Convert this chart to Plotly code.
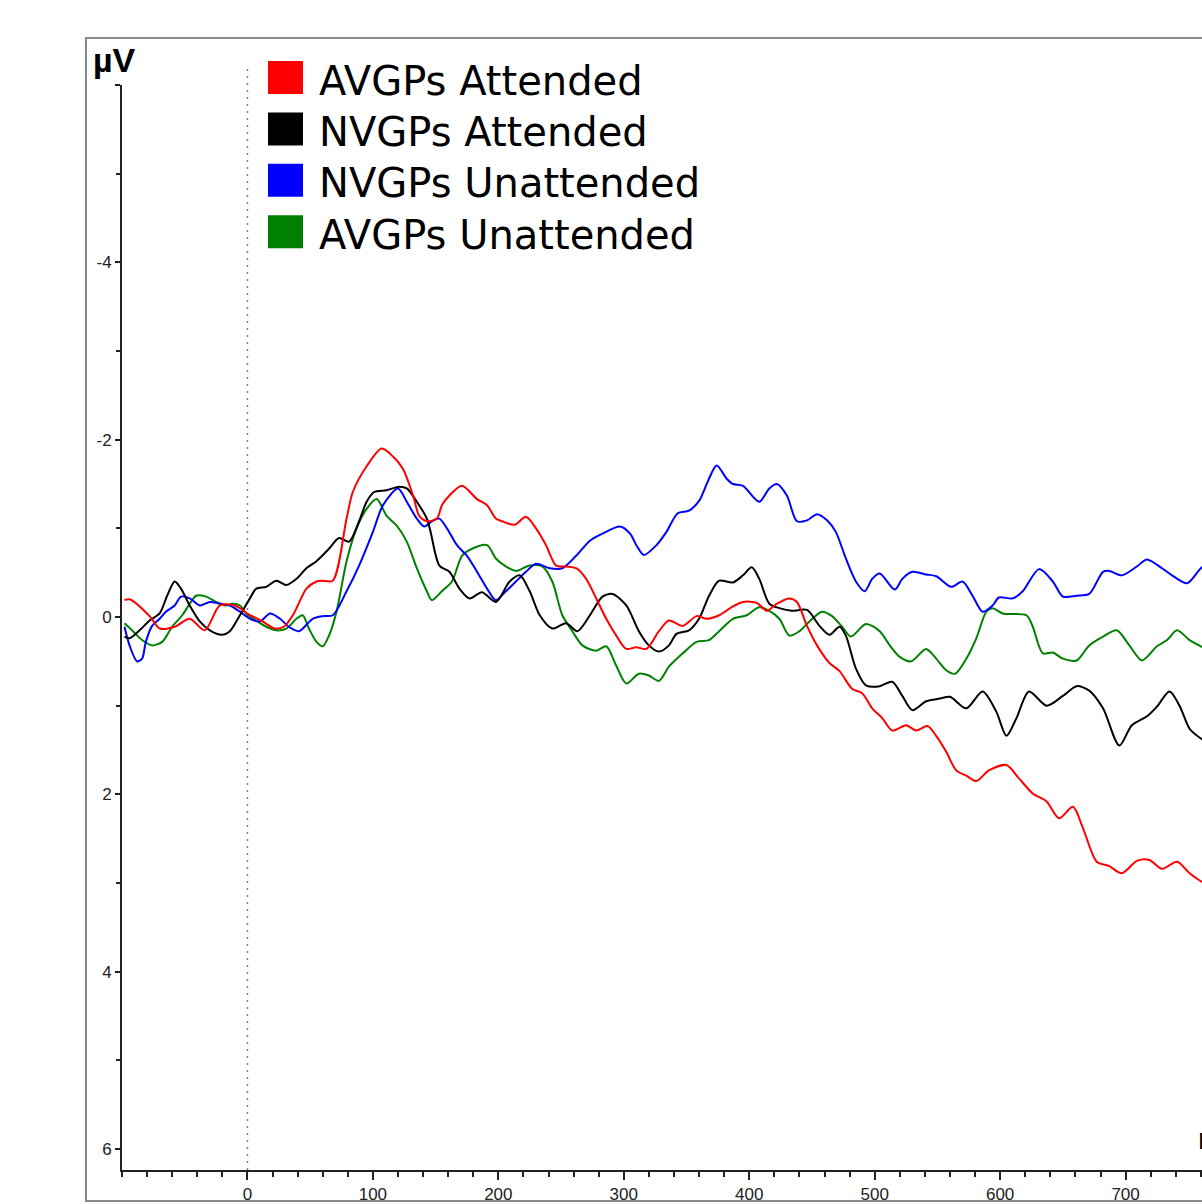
import plotly.graph_objects as go

# ---------------- data (time in ms, amplitude in µV) ----------------
series_names = ["AVGPs Attended", "NVGPs Attended", "NVGPs Unattended", "AVGPs Unattended"]
series_colors = ["#ff0000", "#000000", "#0000ff", "#008000"]

avgp_att_t = [-98, -94, -78, -70, -58, -46, -34, -22, -10, 2, 11, 22, 29, 37, 47, 55, 59, 68, 79, 84, 95, 107,
              116, 124, 132, 137, 143, 151, 155, 161, 171, 183, 191, 198, 203, 213, 222, 230, 238, 246, 254, 262,
              270, 278, 286, 294, 302, 310, 318, 328, 336, 347, 358, 366, 376, 387, 395, 406, 414, 422, 432, 438,
              446, 454, 464, 472, 482, 490, 498, 506, 514, 525, 533, 542, 549, 557, 565, 573, 581, 591, 605, 615,
              626, 637, 647, 658, 666, 677, 687, 697, 709, 719, 729, 741, 751, 760, 770]
avgp_att_v = [-0.19, -0.20, -0.01, 0.13, 0.11, 0.02, 0.15, -0.13, -0.13, -0.02, 0.04, 0.13, 0.11, -0.04, -0.32,
              -0.40, -0.41, -0.41, -1.11, -1.41, -1.70, -1.90, -1.81, -1.67, -1.37, -1.14, -1.08, -1.11, -1.26,
              -1.37, -1.48, -1.33, -1.26, -1.11, -1.08, -1.04, -1.13, -1.00, -0.81, -0.58, -0.57, -0.55, -0.43,
              -0.21, 0.02, 0.21, 0.36, 0.34, 0.36, 0.16, 0.04, 0.10, -0.01, 0.02, -0.02, -0.12, -0.17, -0.16,
              -0.07, -0.15, -0.21, -0.17, 0.10, 0.32, 0.52, 0.61, 0.81, 0.86, 1.03, 1.14, 1.28, 1.22, 1.28, 1.23,
              1.34, 1.52, 1.73, 1.79, 1.85, 1.73, 1.67, 1.82, 1.99, 2.08, 2.27, 2.14, 2.38, 2.76, 2.81, 2.89, 2.75,
              2.74, 2.84, 2.76, 2.89, 2.98, 3.05]

nvgp_att_t = [-98, -94, -86, -78, -70, -64, -58, -53, -46, -38, -30, -20, -14, -6, 2, 7, 15, 23, 31, 39, 47, 55,
              65, 73, 81, 89, 95, 101, 111, 121, 127, 135, 143, 146, 153, 161, 169, 177, 187, 198, 209, 217, 225,
              233, 243, 254, 263, 273, 283, 291, 302, 312, 320, 328, 336, 342, 352, 360, 368, 376, 387, 395, 402,
              408, 416, 424, 434, 446, 456, 464, 472, 477, 485, 493, 504, 514, 522, 530, 541, 552, 560, 573, 586,
              597, 605, 613, 623, 637, 650, 661, 671, 682, 695, 705, 717, 725, 735, 743, 751, 760, 770]
nvgp_att_v = [0.22, 0.24, 0.15, 0.04, -0.04, -0.24, -0.40, -0.32, -0.13, 0.05, 0.15, 0.20, 0.16, -0.02, -0.21,
              -0.32, -0.34, -0.41, -0.36, -0.43, -0.55, -0.63, -0.77, -0.89, -0.85, -1.08, -1.30, -1.41, -1.43,
              -1.47, -1.45, -1.30, -1.11, -0.96, -0.58, -0.51, -0.32, -0.21, -0.28, -0.17, -0.40, -0.47, -0.29,
              -0.02, 0.13, 0.07, 0.16, -0.02, -0.23, -0.26, -0.13, 0.16, 0.32, 0.39, 0.32, 0.19, 0.15, 0.02,
              -0.24, -0.41, -0.39, -0.47, -0.56, -0.43, -0.15, -0.10, -0.07, -0.08, 0.10, 0.20, 0.11, 0.21, 0.58,
              0.77, 0.78, 0.73, 0.89, 1.05, 0.95, 0.92, 0.90, 1.03, 0.84, 1.07, 1.34, 1.14, 0.84, 1.00, 0.89,
              0.78, 0.83, 1.03, 1.45, 1.22, 1.12, 1.01, 0.84, 1.00, 1.26, 1.37, 1.45]

nvgp_unatt_t = [-98, -94, -88, -84, -81, -76, -70, -65, -58, -53, -46, -38, -30, -22, -14, -6, 2, 10, 18, 26, 33,
                41, 52, 60, 68, 79, 89, 100, 108, 120, 127, 135, 141, 147, 153, 159, 167, 175, 183, 191, 198, 206,
                214, 222, 230, 241, 251, 262, 273, 283, 297, 305, 310, 316, 326, 334, 343, 352, 360, 367, 374,
                382, 387, 395, 408, 416, 422, 430, 438, 446, 454, 462, 469, 477, 485, 492, 498, 504, 516, 522,
                530, 541, 549, 561, 570, 578, 586, 594, 599, 610, 618, 631, 642, 650, 661, 671, 682, 687, 697,
                709, 717, 729, 737, 749, 760, 770]
nvgp_unatt_v = [0.11, 0.32, 0.50, 0.47, 0.28, 0.10, 0.02, -0.06, -0.13, -0.23, -0.21, -0.13, -0.17, -0.15, -0.13,
                -0.06, 0.02, 0.05, -0.04, 0.02, 0.11, 0.16, 0.02, -0.01, -0.02, -0.29, -0.58, -0.96, -1.26, -1.45,
                -1.30, -1.11, -1.02, -1.08, -1.11, -1.00, -0.81, -0.69, -0.51, -0.32, -0.19, -0.29, -0.40, -0.51,
                -0.60, -0.55, -0.55, -0.69, -0.86, -0.94, -1.02, -0.94, -0.81, -0.70, -0.81, -0.96, -1.17, -1.20,
                -1.31, -1.53, -1.71, -1.56, -1.50, -1.48, -1.30, -1.45, -1.50, -1.37, -1.08, -1.09, -1.16, -1.09,
                -0.96, -0.66, -0.40, -0.29, -0.43, -0.49, -0.31, -0.43, -0.51, -0.48, -0.46, -0.34, -0.40, -0.24,
                -0.06, -0.13, -0.22, -0.21, -0.29, -0.54, -0.40, -0.23, -0.24, -0.26, -0.51, -0.52, -0.47, -0.57,
                -0.65, -0.55, -0.47, -0.38, -0.55, -0.65]

avgp_unatt_t = [-98, -92, -84, -76, -68, -60, -52, -45, -41, -33, -25, -17, -12, -6, -1, 7, 15, 23, 31, 39, 44,
                49, 55, 60, 65, 71, 79, 87, 95, 103, 111, 119, 127, 135, 143, 147, 155, 163, 171, 179, 191, 198,
                206, 214, 225, 235, 243, 251, 259, 267, 278, 286, 294, 302, 312, 320, 328, 336, 347, 358, 368,
                376, 387, 398, 408, 416, 424, 432, 440, 448, 458, 466, 474, 481, 493, 504, 512, 520, 529, 541,
                549, 557, 564, 573, 581, 589, 594, 602, 621, 626, 634, 642, 650, 661, 671, 682, 693, 703, 713,
                725, 733, 741, 751, 760, 770]
avgp_unatt_v = [0.07, 0.15, 0.26, 0.32, 0.28, 0.11, -0.02, -0.17, -0.24, -0.23, -0.17, -0.13, -0.15, -0.13, -0.04,
                0.04, 0.11, 0.15, 0.13, 0.02, -0.02, 0.13, 0.28, 0.33, 0.21, -0.06, -0.63, -1.00, -1.22, -1.33,
                -1.14, -1.03, -0.85, -0.55, -0.29, -0.19, -0.29, -0.40, -0.69, -0.77, -0.81, -0.66, -0.57, -0.52,
                -0.58, -0.57, -0.40, -0.02, 0.16, 0.32, 0.38, 0.33, 0.55, 0.75, 0.64, 0.66, 0.72, 0.56, 0.41, 0.28,
                0.26, 0.16, 0.02, -0.02, -0.11, -0.07, 0.02, 0.21, 0.16, 0.05, -0.06, -0.01, 0.11, 0.22, 0.08, 0.16,
                0.32, 0.45, 0.50, 0.36, 0.47, 0.60, 0.64, 0.47, 0.24, -0.06, -0.10, -0.04, -0.02, 0.11, 0.41, 0.40,
                0.47, 0.49, 0.32, 0.22, 0.15, 0.32, 0.49, 0.33, 0.26, 0.15, 0.26, 0.33, 0.40]

x_tick_vals = [0, 100, 200, 300, 400, 500, 600, 700]
x_tick_text = ["0", "100", "200", "300", "400", "500", "600", "700"]
y_tick_vals = [-6, -4, -2, 0, 2, 4, 6]
y_tick_text = ["", "-4", "-2", "0", "2", "4", "6"]

series_t = [avgp_att_t, nvgp_att_t, nvgp_unatt_t, avgp_unatt_t]
series_v = [avgp_att_v, nvgp_att_v, nvgp_unatt_v, avgp_unatt_v]

# ---------------- figure ----------------
W, H = 1202, 1204
ML, MR, MT, MB = 122, 0, 85, 1204 - 1172
PW, PH = W - ML - MR, H - MT - MB


def px_x(px):  # reference-image pixel -> paper coordinate
    return (px - ML) / PW


def px_y(py):
    return (H - MB - py) / PH


fig = go.Figure()

draw_order = [3, 2, 1, 0]
for i in draw_order:
    fig.add_trace(go.Scatter(
        x=series_t[i], y=series_v[i], mode="lines", name=series_names[i],
        line=dict(color=series_colors[i], width=2, shape="spline", smoothing=0.8),
        showlegend=False, hoverinfo="skip"))

tick_font = dict(family="Liberation Sans, Arial, sans-serif", size=17, color="#222")

fig.update_layout(
    width=W, height=H,
    margin=dict(l=ML, r=MR, t=MT, b=MB, pad=0),
    paper_bgcolor="white", plot_bgcolor="white",
    showlegend=False,
    xaxis=dict(
        range=[-100, -100 + PW / 1.2545], showgrid=False, zeroline=False,
        showline=True, linecolor="#222", linewidth=2,
        tickmode="array", tickvals=x_tick_vals, ticktext=x_tick_text,
        ticks="outside", ticklen=8, tickwidth=1.5, tickcolor="#222",
        minor=dict(dtick=20, tick0=0, ticks="outside", ticklen=5, tickwidth=1.5, tickcolor="#222"),
        tickfont=tick_font,
    ),
    yaxis=dict(
        range=[6.0 + 21 / 88.75, -6.0], showgrid=False, zeroline=False,
        showline=True, linecolor="#222", linewidth=2,
        tickmode="array", tickvals=y_tick_vals, ticktext=y_tick_text,
        ticks="outside", ticklen=5, tickwidth=1.5, tickcolor="#222",
        minor=dict(dtick=1, tick0=0, ticks="outside", ticklen=4, tickwidth=1.5, tickcolor="#222"),
        tickfont=tick_font,
    ),
)

# outer gray frame
fig.add_shape(type="rect", xref="paper", yref="paper",
              x0=px_x(86), x1=px_x(1260), y0=px_y(1203), y1=px_y(38),
              line=dict(color="#8a8a8a", width=2), fillcolor="rgba(0,0,0,0)", layer="below")

# dotted stimulus-onset line
fig.add_shape(type="line", xref="x", yref="paper",
              x0=0, x1=0, y0=0, y1=px_y(68),
              line=dict(color="#808080", width=1.5, dash="2px,5px"), layer="below")

# axis unit labels
fig.add_annotation(text="<b>µV</b>", xref="paper", yref="paper", x=px_x(91), y=px_y(60),
                   xanchor="left", yanchor="middle", showarrow=False,
                   font=dict(family="Liberation Sans, Arial, sans-serif", size=34, color="#000"))
fig.add_annotation(text="<b>ms</b>", xref="paper", yref="paper", x=px_x(1196), y=px_y(1140),
                   xanchor="left", yanchor="middle", showarrow=False,
                   font=dict(family="Liberation Sans, Arial, sans-serif", size=30, color="#000"))

# custom legend (colored squares + labels)
row0, row_step = 77.5, 51.5
for k, (name, col) in enumerate(zip(series_names, series_colors)):
    cy = row0 + k * row_step
    fig.add_shape(type="rect", xref="paper", yref="paper",
                  x0=px_x(268), x1=px_x(303), y0=px_y(cy + 16.5), y1=px_y(cy - 16.5),
                  line=dict(width=0), fillcolor=col, layer="above")
    fig.add_annotation(text=name, xref="paper", yref="paper", x=px_x(317), y=px_y(cy + 3),
                       xanchor="left", yanchor="middle", showarrow=False,
                       font=dict(family="DejaVu Sans, Verdana, sans-serif", size=40, color="#000"))

fig.write_html(
    "out.html",
    config={"displayModeBar": False},
    post_script="document.body.style.margin='0';document.body.style.overflow='hidden';",
)
